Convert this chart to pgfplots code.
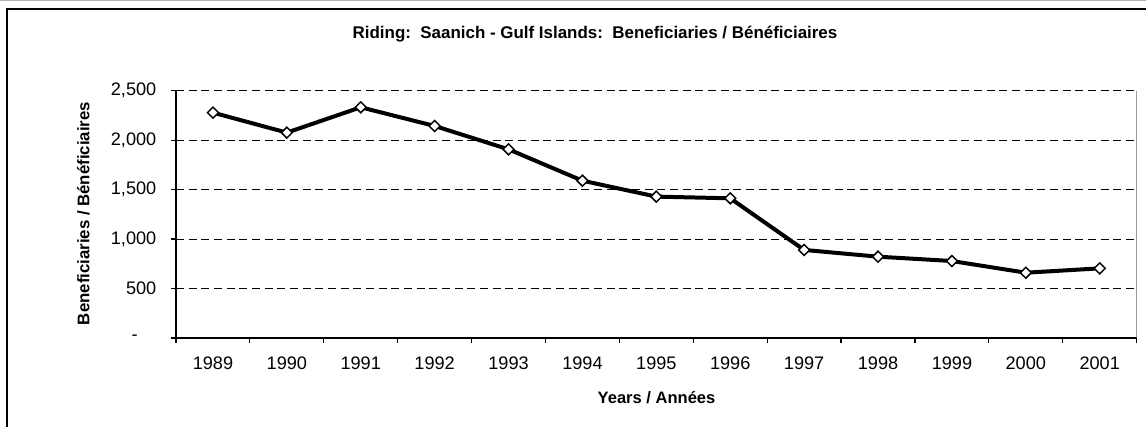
\documentclass[border=0pt]{standalone}
\usepackage{fontspec}
\setmainfont{Liberation Sans}
\usepackage{pgfplots}
\pgfplotsset{compat=1.18}

\begin{document}
\begin{tikzpicture}
\useasboundingbox (0,0) rectangle (859.5pt,-320.25pt);
\clip (0,0) rectangle (859.5pt,-320.25pt);
% outer chart frame (cut off at right and bottom)
\draw[black!30, line width=0.75pt] (0,-0.4pt) -- (870pt,-0.4pt);
\draw[line width=1.5pt] (5.5pt,-330pt) -- (5.5pt,-6.75pt) -- (870pt,-6.75pt);

\begin{axis}[
  at={(132pt,-253.5pt)}, anchor=south west,
  scale only axis, width=720.5pt, height=185.5pt,
  xmin=-0.5, xmax=12.5, ymin=0, ymax=2500,
  axis lines=left, axis line style={-, line width=0.9pt},
  tick align=outside, major tick length=3.75pt,
  tick style={black, line width=0.9pt},
  xtick={-0.5,0.5,...,12.5}, xticklabels={},
  extra x ticks={0,1,2,3,4,5,6,7,8,9,10,11,12},
  extra x tick labels={1989,1990,1991,1992,1993,1994,1995,1996,1997,1998,1999,2000,2001},
  extra x tick style={tick style={draw=none}},
  ytick={0,500,1000,1500,2000,2500},
  yticklabels={{-\kern14pt},500,{1,000},{1,500},{2,000},{2,500}},
  /pgf/number format/assume math mode=true,
  tick label style={font=\fontsize{13.6}{16}\selectfont},
  yticklabel style={xshift=-7.5pt},
  xticklabel style={yshift=-7pt},
  ymajorgrids,
  major grid style={black, line width=0.75pt, dash pattern=on 6pt off 3.5pt},
]
\draw[black!60, line width=0.9pt] (rel axis cs:1,0) -- (rel axis cs:1,1);
\addplot[black, line width=3pt, mark=square*, mark size=2.9pt,
  mark options={rotate=45, fill=white, line width=1.1pt, solid}]
  coordinates {(0,2278)(1,2076)(2,2332)(3,2143)(4,1907)(5,1590)(6,1429)
               (7,1412)(8,890)(9,822)(10,778)(11,660)(12,704)};
\end{axis}

\node[anchor=base, font=\bfseries\fontsize{12.7}{15}\selectfont] at (446.25pt,-29.25pt)
  {Riding:\ \ Saanich - Gulf Islands:\ \ Beneficiaries / Bénéficiaires};
\node[anchor=base, rotate=90, font=\bfseries\fontsize{12.6}{15}\selectfont] at (67pt,-160.1pt)
  {Beneficiaries / Bénéficiaires};
\node[anchor=base, font=\bfseries\fontsize{12.4}{15}\selectfont] at (492.4pt,-302.5pt)
  {Years / Années};
\end{tikzpicture}
\end{document}
